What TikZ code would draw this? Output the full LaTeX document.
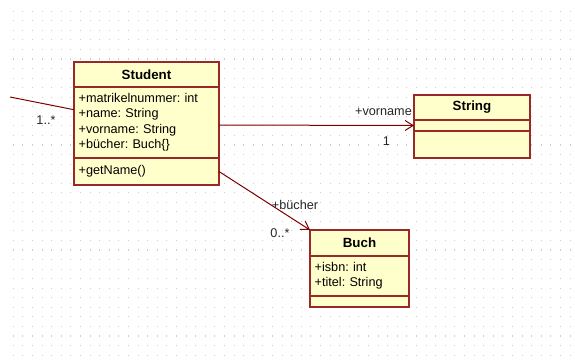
\documentclass[tikz,border=0pt]{standalone}
\usepackage{fontspec}
\setmainfont{Liberation Sans}
\usepackage{xcolor}
\usetikzlibrary{positioning, arrows.meta}
\definecolor{classfill}{RGB}{255,255,204}
\definecolor{classline}{RGB}{155,40,40}
\definecolor{assoccolor}{RGB}{128,0,0}
\definecolor{gridcolor}{RGB}{205,205,205}
\frenchspacing
\tikzstyle{assoc} = [line width=0.75pt, draw=assoccolor]
\tikzstyle{arrow} = [assoc, -{Straight Barb[length=6pt,width=7.5pt]}]
\tikzstyle{classbox} = [rectangle, draw=classline, fill=classfill, line width=0.8pt, outer sep=0pt, inner xsep=3.5pt, inner ysep=1pt, font=\fontsize{9.5}{11.5}\selectfont]
\tikzstyle{classname} = [classbox, font=\fontsize{10}{12}\selectfont\bfseries, align=center, minimum height=18.75pt]
\tikzstyle{members} = [classbox, align=left]
\tikzstyle{lbl} = [font=\fontsize{9.5}{11.5}\selectfont, text=black!85, inner sep=0pt]

\begin{document}
\begin{tikzpicture}[x=0.75pt, y=-0.75pt]

% Canvas with dotted grid
\fill[white] (0,0) rectangle (575,364);
\foreach \i in {0,...,58}
  \foreach \j in {0,...,36}
    \fill[gridcolor] (12.7+\i*9.6,10.7+\j*9.55) rectangle ++(1.1,1.1);
\useasboundingbox (0,0) rectangle (575,364);

% Class Student
\node[classname, text width=101.75pt, anchor=north west] (stuhead) at (74,62) {Student};
\node[members, text width=101.75pt, minimum height=53.25pt, below=0pt of stuhead] (stuattr) {\strut+matrikelnummer: int\\+name: String\\+vorname: String\\+bücher: Buch\{\}\strut};
\node[members, text width=101.75pt, minimum height=20.25pt, below=0pt of stuattr] (stumeth) {+getName()};

% Class String
\node[classname, text width=80pt, anchor=north west] (strhead) at (414,95) {String};
\node[members, text width=80pt, minimum height=8.25pt, below=0pt of strhead] (strattr) {};
\node[members, text width=80pt, minimum height=20.25pt, below=0pt of strattr] (strmeth) {};

% Class Buch
\node[classname, text width=67.25pt, minimum height=19.5pt, anchor=north west] (buchhead) at (310,230) {Buch};
\node[members, text width=67.25pt, minimum height=30pt, below=0pt of buchhead] (buchattr) {\strut+isbn: int\\+titel: String\strut};
\node[members, text width=67.25pt, minimum height=8.25pt, below=0pt of buchattr] (buchmeth) {};

% Associations
\coordinate (outside) at (10,97);
\draw[assoc] (outside) -- (stuattr.170);
\draw[arrow] (stuattr.-2) -- (strattr.west);
\draw[arrow] (stumeth.east) -- (buchhead.north west);

% Roles and multiplicities
\node[lbl] (multstu) at (46,120) {1..*};
\node[lbl] (rolevor) at (383.5,112) {+vorname};
\node[lbl] (multvor) at (386.5,141) {1};
\node[lbl] (rolebuch) at (295,204.5) {+bücher};
\node[lbl] (multbuch) at (280,233.5) {0..*};

\end{tikzpicture}
\end{document}
